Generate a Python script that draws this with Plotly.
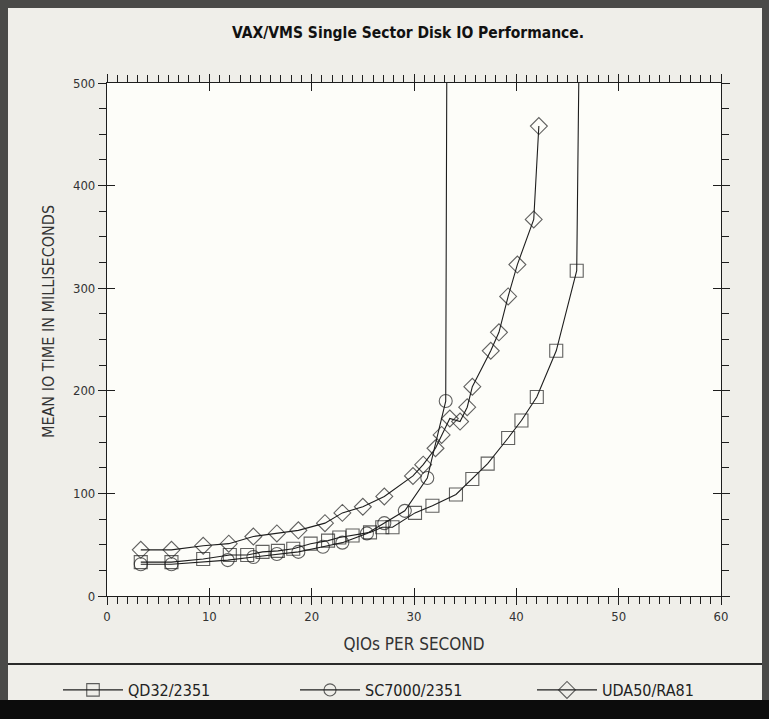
import plotly.graph_objects as go

# ---- data ----
qd32_x = [3.3, 6.3, 9.4, 12.0, 13.7, 15.2, 16.7, 18.2, 19.9, 21.6, 22.7, 24.0, 25.7,
          26.9, 27.9, 30.1, 31.8, 34.1, 35.7, 37.2, 39.2, 40.5, 42.0, 43.9, 45.9, 46.1]
qd32_y = [33, 33, 36, 40, 40, 43, 44, 46, 51, 54, 57, 59, 62,
          67, 67, 81, 88, 99, 114, 129, 154, 171, 194, 239, 317, 500]

sc7000_x = [3.3, 6.3, 11.8, 14.3, 16.6, 18.7, 21.1, 23.0, 25.4, 27.1, 29.1, 31.3, 33.1, 33.2]
sc7000_y = [31, 31, 35, 38, 41, 43, 48, 52, 61, 71, 83, 115, 190, 500]

uda50_x = [3.3, 6.3, 9.4, 11.9, 14.3, 16.6, 18.7, 21.3, 23.0, 25.0, 27.1, 29.9, 30.9,
           32.1, 32.7, 33.5, 34.5, 35.2, 35.7, 37.5, 38.3, 39.2, 40.1, 41.7, 42.2]
uda50_y = [45, 45, 49, 51, 58, 61, 64, 71, 81, 87, 97, 117, 128,
           144, 157, 173, 170, 184, 204, 239, 257, 292, 323, 367, 458]

# the last point of the QD32 and SC7000 series is the vertical run-off line (no marker)
series_names = ["QD32/2351", "SC7000/2351", "UDA50/RA81"]
series_symbols = ["square-open", "circle-open", "diamond-open"]
series_runoff = [True, True, False]

x_ticks = [0, 10, 20, 30, 40, 50, 60]
y_ticks = [0, 100, 200, 300, 400, 500]

title_text = "VAX/VMS Single Sector Disk IO Performance."
x_title = "QIOs PER SECOND"
y_title = "MEAN IO TIME IN MILLISECONDS"

# ---- figure ----
W, H = 769, 719
L, R, T, B = 107, 721, 83, 596
FONT = "Liberation Sans Narrow, DejaVu Sans Condensed, Arial Narrow, sans-serif"
INK = "#1e1e1e"
MSIZE = 13


def px_x(px):
    return (px - L) / (R - L)


def px_y(py):
    return (B - py) / (B - T)


fig = go.Figure()
for xs, ys, name, sym, runoff in zip([qd32_x, sc7000_x, uda50_x],
                                     [qd32_y, sc7000_y, uda50_y],
                                     series_names, series_symbols, series_runoff):
    sizes = [MSIZE] * len(xs)
    if runoff:
        sizes[-1] = 0
    fig.add_trace(go.Scatter(
        x=xs, y=ys, name=name, mode="lines+markers",
        line=dict(color=INK, width=1.1),
        marker=dict(symbol=sym, size=sizes, color=INK, line=dict(width=1.1, color=INK)),
        cliponaxis=True,
    ))

axis_common = dict(
    showgrid=False, zeroline=False, showline=True, linecolor=INK, linewidth=1.2,
    ticks="outside", ticklen=8, tickwidth=1.2, tickcolor=INK, mirror="ticks",
    tickfont=dict(family=FONT, size=13, color="#333333"),
)

fig.update_layout(
    width=W, height=H,
    margin=dict(l=L, r=W - R, t=T, b=H - B),
    paper_bgcolor="#efeee9",
    plot_bgcolor="#fdfdf9",
    title=dict(text="<b>" + title_text + "</b>", x=px_x(408), xref="paper",
               y=1 - 33 / H, yref="container", xanchor="center", yanchor="middle",
               font=dict(family=FONT, size=15.5, color="#111111")),
    xaxis=dict(range=[0, 60], tickvals=x_ticks, ticktext=[str(v) for v in x_ticks],
               minor=dict(dtick=1, ticks="outside", ticklen=7, tickwidth=1, tickcolor=INK),
               title=dict(text=x_title, standoff=15,
                          font=dict(family=FONT, size=17, color="#333333")),
               **axis_common),
    yaxis=dict(range=[0, 500], tickvals=y_ticks, ticktext=[str(v) for v in y_ticks],
               minor=dict(dtick=25, ticks="outside", ticklen=7, tickwidth=1, tickcolor=INK),
               **axis_common),
    # overlay axes giving the inward half of the crossing major ticks
    xaxis2=dict(overlaying="x", matches="x", range=[0, 60], tickvals=x_ticks,
                showticklabels=False, ticks="inside", ticklen=8, tickwidth=1.2,
                tickcolor=INK, mirror="ticks", showline=False, showgrid=False,
                zeroline=False, side="bottom", anchor="y"),
    yaxis2=dict(overlaying="y", matches="y", range=[0, 500], tickvals=y_ticks,
                showticklabels=False, ticks="inside", ticklen=8, tickwidth=1.2,
                tickcolor=INK, mirror="ticks", showline=False, showgrid=False,
                zeroline=False, side="left", anchor="x"),
    legend=dict(orientation="h", x=px_x(58), xanchor="left", xref="paper",
                y=px_y(690), yanchor="middle", yref="paper",
                bgcolor="rgba(0,0,0,0)", itemwidth=60, entrywidth=162,
                font=dict(family=FONT, size=16, color="#222222"),
                itemclick=False),
    showlegend=True,
    annotations=[
        dict(text=y_title, textangle=-90, xref="paper", yref="paper",
             x=px_x(48), y=px_y(322), xanchor="center", yanchor="middle",
             showarrow=False, font=dict(family=FONT, size=16, color="#333333")),
    ],
    shapes=[
        # dark frame strips
        dict(type="rect", xref="paper", yref="paper", layer="below",
             x0=px_x(0), x1=px_x(8), y0=px_y(719), y1=px_y(0),
             fillcolor="#4a4a48", line=dict(width=0)),
        dict(type="rect", xref="paper", yref="paper", layer="below",
             x0=px_x(762), x1=px_x(769), y0=px_y(719), y1=px_y(0),
             fillcolor="#4a4a48", line=dict(width=0)),
        dict(type="rect", xref="paper", yref="paper", layer="below",
             x0=px_x(0), x1=px_x(769), y0=px_y(8), y1=px_y(0),
             fillcolor="#4a4a48", line=dict(width=0)),
        # black bottom band
        dict(type="rect", xref="paper", yref="paper", layer="below",
             x0=px_x(0), x1=px_x(769), y0=px_y(719), y1=px_y(700),
             fillcolor="#0c0c0c", line=dict(width=0)),
        # separator above legend
        dict(type="line", xref="paper", yref="paper",
             x0=px_x(8), x1=px_x(762), y0=px_y(664), y1=px_y(664),
             line=dict(color="#2a2a2a", width=2)),
    ],
)

# invisible trace anchoring the overlay axes
fig.add_trace(go.Scatter(x=[None], y=[None], xaxis="x2", yaxis="y2",
                         showlegend=False, hoverinfo="skip"))

fig.write_html("out.html", config={"displayModeBar": False},
               post_script="document.body.style.margin='0';")
